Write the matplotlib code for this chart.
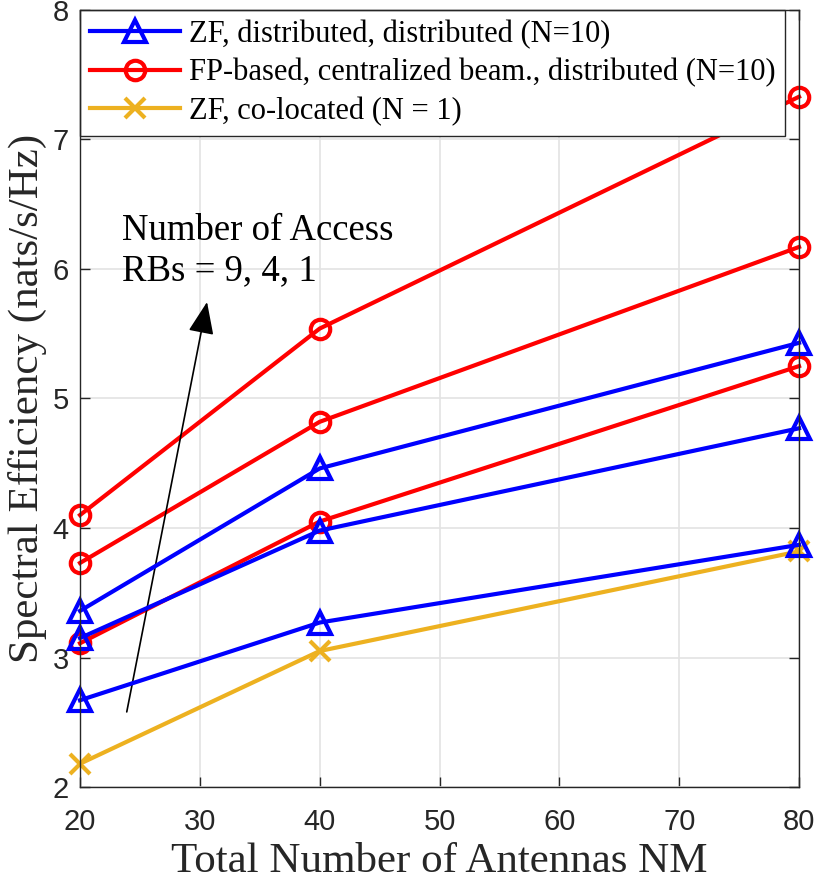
import numpy as np
import matplotlib
matplotlib.use('Agg')
from matplotlib import pyplot as plt

# antenna counts and spectral efficiency for each access RB setting (9, 4, 1)
nm = [20, 40, 80]
zf_dist = [[3.36, 4.46, 5.43],
           [3.15, 3.98, 4.77],
           [2.67, 3.27, 3.87]]
fp_dist = [[4.10, 5.54, 7.33],
           [3.73, 4.82, 6.17],
           [3.11, 4.05, 5.25]]
zf_coloc = [2.18, 3.05, 3.82]

labels = ['ZF, distributed, distributed (N=10)',
          'FP-based, centralized beam., distributed (N=10)',
          'ZF, co-located (N = 1)']

serif = 'Liberation Serif'
sans = 'Liberation Sans'
yellow = '#EDB120'

fig = plt.figure(figsize=(8.3, 8.83), dpi=100)
ax = fig.add_axes([0.0964, 0.1087, 0.8663, 0.88])

lw = 3.0
for i, s in enumerate(zf_dist):
    ax.plot(nm, s, '-^', color='blue', lw=lw, ms=16.5, mfc='none', mew=3,
            label=labels[0] if i == 0 else None, zorder=4, clip_on=False)
for i, s in enumerate(fp_dist):
    ax.plot(nm, s, '-o', color='red', lw=lw, ms=14, mfc='none', mew=3,
            label=labels[1] if i == 0 else None, zorder=3, clip_on=False)
ax.plot(nm, zf_coloc, '-x', color=yellow, lw=lw, ms=15, mew=3,
        label=labels[2], zorder=3, clip_on=False)

ax.set_xlim(20, 80)
ax.set_ylim(2, 8)
ax.set_xticks([20, 30, 40, 50, 60, 70, 80])
ax.set_yticks([2, 3, 4, 5, 6, 7, 8])
ax.grid(True, color='#e3e3e3', lw=1.2)
ax.set_axisbelow(True)
ax.tick_params(direction='in', length=7, width=1, top=True, right=True,
               labelsize=21, colors='#262626')
ax.tick_params(axis='x', pad=15)
ax.tick_params(axis='y', pad=8)
for lab in ax.get_xticklabels() + ax.get_yticklabels():
    lab.set_fontfamily(sans)
for sp in ax.spines.values():
    sp.set_color('#262626')
    sp.set_linewidth(1)
    sp.set_zorder(6)

ax.set_xlabel('Total Number of Antennas NM', fontfamily=serif, fontsize=31,
              color='#262626', labelpad=5)
ax.set_ylabel('Spectral Efficiency (nats/s/Hz)', fontfamily=serif, fontsize=31,
              color='#262626', labelpad=4)

ax.annotate('', xy=(30.6, 5.745), xytext=(23.9, 2.58),
            arrowprops=dict(arrowstyle='-|>,head_length=0.5,head_width=0.2',
                            color='black', lw=1.2, mutation_scale=40,
                            shrinkA=0, shrinkB=0))
ax.text(23.5, 6.43, 'Number of Access\nRBs = 9, 4, 1', fontfamily=serif,
        fontsize=26.5, va='top', ha='left', linespacing=1.22)

leg = ax.legend(loc='upper left', bbox_to_anchor=(0, 1), borderaxespad=0,
                prop={'family': serif, 'size': 22}, fancybox=False,
                framealpha=1, edgecolor='#262626', handlelength=2.95,
                borderpad=0.32, labelspacing=0.3, handletextpad=0.3)
leg.get_frame().set_linewidth(1)

fig.savefig('out.png', dpi=100)
